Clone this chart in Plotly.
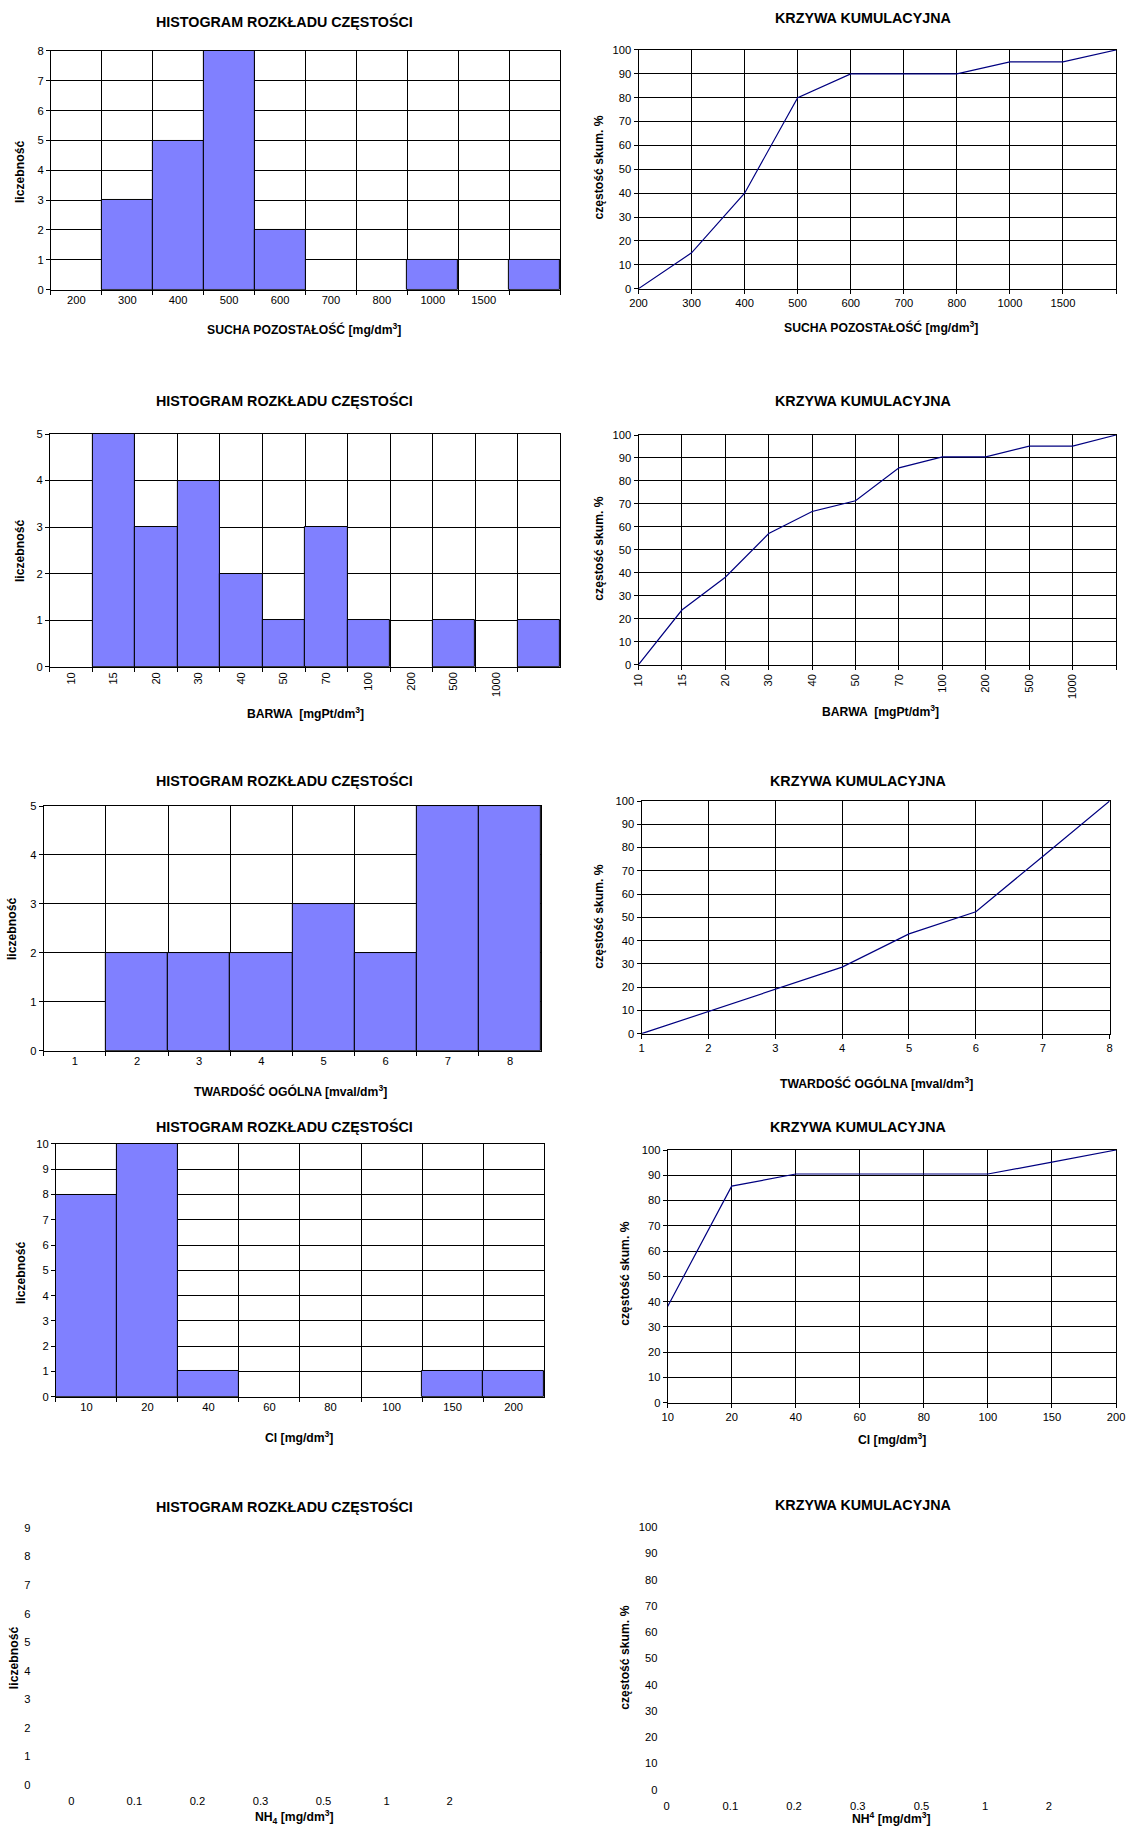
import plotly.graph_objects as go

W, H = 1126, 1827

# ---------------- DATA ----------------
sucha_labels = ["200", "300", "400", "500", "600", "700", "800", "1000", "1500", " "]
sucha_counts = [0, 3, 5, 8, 2, 0, 0, 1, 0, 1]
sucha_cum = [0, 15, 40, 80, 90, 90, 90, 95, 95, 100]

barwa_labels = ["10", "15", "20", "30", "40", "50", "70", "100", "200", "500", "1000", " "]
barwa_counts = [0, 5, 3, 4, 2, 1, 3, 1, 0, 1, 0, 1]
barwa_cum = [0, 23.8, 38.1, 57.1, 66.7, 71.4, 85.7, 90.5, 90.5, 95.2, 95.2, 100]

tward_labels = ["1", "2", "3", "4", "5", "6", "7", "8"]
tward_counts = [0, 2, 2, 2, 3, 2, 5, 5]
tward_cum = [0, 9.5, 19.0, 28.6, 42.9, 52.4, 76.2, 100]

cl_labels = ["10", "20", "40", "60", "80", "100", "150", "200"]
cl_counts = [8, 10, 1, 0, 0, 0, 1, 1]
cl_cum = [38.1, 85.7, 90.5, 90.5, 90.5, 90.5, 95.2, 100]

nh4_labels = ["0", "0.1", "0.2", "0.3", "0.5", "1", "2", " "]
nh4_counts = []   # no data
nh4_cum = []      # no data

hist_title = "HISTOGRAM ROZKŁADU CZĘSTOŚCI"
cum_title = "KRZYWA KUMULACYJNA"
hist_ytitle = "liczebność"
cum_ytitle = "częstość skum. %"

# ---------------- LAYOUT HELPERS ----------------
FONT = "Liberation Sans, Arial, sans-serif"
BAR_COLOR = "#8080FF"
LINE_COLOR = "#000080"
TICK_SIZE = 11.2
TITLE_SIZE = 14.3
AXT_SIZE = 12.2

fig = go.Figure()
annotations = []


def map_x(v):
    return min(1125.0, max(0.0, 1.0208 * v - 9.5))


def map_y(v):
    return min(float(H), max(0.0, 1.0094 * v - 5.2))


def px_x(v):
    return map_x(v) / W


def px_y(v):
    return 1 - map_y(v) / H


def add_text(text, x, y, size, angle=0):
    annotations.append(dict(
        text=text, x=px_x(x), y=px_y(y), xref="paper", yref="paper",
        showarrow=False, xanchor="center", yanchor="middle",
        textangle=angle, font=dict(family=FONT, size=size, color="black")))


def axis_style(framed):
    if framed:
        return dict(showline=True, mirror=True, linecolor="black", linewidth=1,
                    showgrid=True, gridcolor="black", gridwidth=1,
                    ticks="outside", ticklen=4, tickcolor="black", zeroline=False,
                    tickfont=dict(family=FONT, size=TICK_SIZE, color="black"))
    return dict(showline=False, showgrid=False, ticks="outside", ticklen=6,
                tickcolor="rgba(0,0,0,0)", zeroline=False,
                tickfont=dict(family=FONT, size=TICK_SIZE, color="black"))


idx = [0]


def add_hist(labels, counts, ymax, box, framed=True, tickangle=0):
    idx[0] += 1
    i = idx[0]
    xa = "xaxis" if i == 1 else f"xaxis{i}"
    ya = "yaxis" if i == 1 else f"yaxis{i}"
    xr = "x" if i == 1 else f"x{i}"
    yr = "y" if i == 1 else f"y{i}"
    x0, x1, y0, y1 = box
    if counts:
        fig.add_trace(go.Bar(x=labels, y=counts, width=1, xaxis=xr, yaxis=yr,
                             marker=dict(color=BAR_COLOR,
                                         line=dict(color="black",
                                                   width=[1 if c else 0 for c in counts])),
                             showlegend=False, hoverinfo="x+y"))
    else:
        fig.add_trace(go.Scatter(x=labels, y=[None] * len(labels), mode="markers",
                                 xaxis=xr, yaxis=yr, showlegend=False))
    xs = axis_style(framed)
    xs.update(type="category", categoryorder="array", categoryarray=labels,
              range=[-0.5, len(labels) - 0.5], domain=[px_x(x0), px_x(x1)],
              anchor=yr, tickangle=tickangle)
    if framed:
        xs.update(tickson="boundaries")
    ys = axis_style(framed)
    ys.update(range=[0, ymax], dtick=1, domain=[px_y(y1), px_y(y0)], anchor=xr)
    fig.update_layout({xa: xs, ya: ys})


def add_cum(labels, cum, box, framed=True, tickangle=0):
    idx[0] += 1
    i = idx[0]
    xa = f"xaxis{i}"
    ya = f"yaxis{i}"
    xr = f"x{i}"
    yr = f"y{i}"
    x0, x1, y0, y1 = box
    if cum:
        fig.add_trace(go.Scatter(x=labels, y=cum, mode="lines", xaxis=xr, yaxis=yr,
                                 line=dict(color=LINE_COLOR, width=1.2),
                                 showlegend=False, cliponaxis=False))
    else:
        fig.add_trace(go.Scatter(x=labels, y=[None] * len(labels), mode="markers",
                                 xaxis=xr, yaxis=yr, showlegend=False))
    xs = axis_style(framed)
    xs.update(type="category", categoryorder="array", categoryarray=labels,
              range=[0, len(labels) - 1], domain=[px_x(x0), px_x(x1)],
              anchor=yr, tickangle=tickangle)
    ys = axis_style(framed)
    ys.update(range=[0, 100], dtick=10, domain=[px_y(y1), px_y(y0)], anchor=xr)
    fig.update_layout({xa: xs, ya: ys})


# Row 1
add_hist(sucha_labels, sucha_counts, 8, (51, 558, 50, 288))
add_cum(sucha_labels, sucha_cum, (636, 1118, 49, 287))
add_text("<b>" + hist_title + "</b>", 284, 21, TITLE_SIZE)
add_text("<b>" + cum_title + "</b>", 859, 17, TITLE_SIZE)
add_text("<b>SUCHA POZOSTAŁOŚĆ [mg/dm<sup>3</sup>]</b>", 303, 327, AXT_SIZE)
add_text("<b>SUCHA POZOSTAŁOŚĆ [mg/dm<sup>3</sup>]</b>", 877, 325, AXT_SIZE)
add_text("<b>" + hist_ytitle + "</b>", 21, 170, AXT_SIZE, -90)
add_text("<b>" + cum_ytitle + "</b>", 597, 166, AXT_SIZE, -90)

# Row 2
add_hist(barwa_labels, barwa_counts, 5, (50, 558, 432, 664), tickangle=-90)
add_cum(barwa_labels, barwa_cum, (636, 1118, 433, 662), tickangle=-90)
add_text("<b>" + hist_title + "</b>", 284, 399, TITLE_SIZE)
add_text("<b>" + cum_title + "</b>", 859, 399, TITLE_SIZE)
add_text("<b>BARWA  [mgPt/dm<sup>3</sup>]</b>", 304, 710, AXT_SIZE)
add_text("<b>BARWA  [mgPt/dm<sup>3</sup>]</b>", 877, 708, AXT_SIZE)
add_text("<b>" + hist_ytitle + "</b>", 21, 548, AXT_SIZE, -90)
add_text("<b>" + cum_ytitle + "</b>", 597, 546, AXT_SIZE, -90)

# Row 3
add_hist(tward_labels, tward_counts, 5, (44, 539, 803, 1047))
add_cum(tward_labels, tward_cum, (639, 1105, 798, 1030))
add_text("<b>" + hist_title + "</b>", 284, 778, TITLE_SIZE)
add_text("<b>" + cum_title + "</b>", 855, 778, TITLE_SIZE)
add_text("<b>TWARDOŚĆ OGÓLNA [mval/dm<sup>3</sup>]</b>", 290, 1087, AXT_SIZE)
add_text("<b>TWARDOŚĆ OGÓLNA [mval/dm<sup>3</sup>]</b>", 873, 1079, AXT_SIZE)
add_text("<b>" + hist_ytitle + "</b>", 13, 925, AXT_SIZE, -90)
add_text("<b>" + cum_ytitle + "</b>", 597, 913, AXT_SIZE, -90)

# Row 4
add_hist(cl_labels, cl_counts, 10, (56, 542, 1140, 1392))
add_cum(cl_labels, cl_cum, (665, 1112, 1146, 1398))
add_text("<b>" + hist_title + "</b>", 284, 1123, TITLE_SIZE)
add_text("<b>" + cum_title + "</b>", 855, 1123, TITLE_SIZE)
add_text("<b>Cl [mg/dm<sup>3</sup>]</b>", 298, 1432, AXT_SIZE)
add_text("<b>Cl [mg/dm<sup>3</sup>]</b>", 888, 1434, AXT_SIZE)
add_text("<b>" + hist_ytitle + "</b>", 22, 1268, AXT_SIZE, -90)
add_text("<b>" + cum_ytitle + "</b>", 623, 1269, AXT_SIZE, -90)

# Row 5 (no data)
add_hist(nh4_labels, nh4_counts, 9, (40, 542, 1523, 1779), framed=False)
add_cum(nh4_labels, nh4_cum, (664, 1108, 1522, 1784), framed=False)
add_text("<b>" + hist_title + "</b>", 284, 1502, TITLE_SIZE)
add_text("<b>" + cum_title + "</b>", 859, 1500, TITLE_SIZE)
add_text("<b>NH<sub>4</sub> [mg/dm<sup>3</sup>]</b>", 294, 1811, AXT_SIZE)
add_text("<b>NH<sup>4</sup> [mg/dm<sup>3</sup>]</b>", 888, 1812, AXT_SIZE)
add_text("<b>" + hist_ytitle + "</b>", 15, 1652, AXT_SIZE, -90)
add_text("<b>" + cum_ytitle + "</b>", 623, 1652, AXT_SIZE, -90)

fig.update_layout(
    width=W, height=H, margin=dict(l=0, r=0, t=0, b=0),
    paper_bgcolor="white", plot_bgcolor="white",
    font=dict(family=FONT, size=TICK_SIZE, color="black"),
    annotations=annotations, bargap=0, showlegend=False,
)

fig.write_html("out.html", config={"displayModeBar": False},
               post_script="document.body.style.margin='0';"
                           "document.body.style.overflow='hidden';")
